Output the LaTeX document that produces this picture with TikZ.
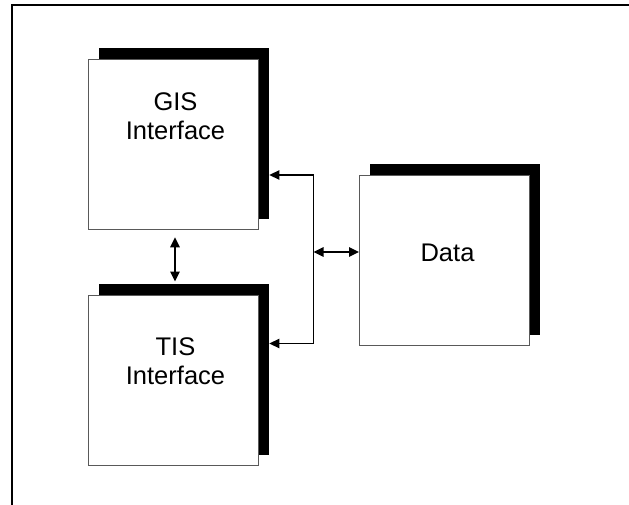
\documentclass[tikz,border=0pt]{standalone}
\usepackage{fontspec}
\setmainfont{Liberation Sans}
\usetikzlibrary{arrows.meta,calc}

\tikzset{
  shadowbox/.style={fill=black, draw=none, minimum width=170pt, minimum height=171pt,
                    inner sep=0pt, anchor=north west},
  frontbox/.style={fill=white, draw=black!65, line width=0.8pt, minimum width=170pt,
                   minimum height=170pt, inner sep=0pt, anchor=north west},
  boxlabel/.style={font=\fontsize{25.5pt}{28.5pt}\selectfont, align=center, inner sep=0pt},
  link/.style={line width=1.3pt, -{Triangle[length=10pt,width=9.5pt]}},
  dlink/.style={line width=1.3pt, {Triangle[length=10pt,width=9.5pt]}-{Triangle[length=10pt,width=9.5pt]}},
  frame/.style={line width=1.5pt}
}

\begin{document}
\begin{tikzpicture}[x=1pt, y=-1pt]
  \useasboundingbox (0,0) rectangle (629,505);

  % open frame: top and left edges
  \coordinate (ftl) at (12,5);
  \coordinate (ftr) at (629,5);
  \coordinate (fbl) at (12,505);
  \draw[frame] (fbl) -- (ftl) -- (ftr);

  % GIS interface block
  \node[shadowbox] (gisS) at (99,48) {};
  \node[frontbox]  (gisF) at (88,59) {};
  \node[boxlabel]  (gisL) at (175.5,116) {GIS\\Interface};

  % TIS interface block
  \node[shadowbox] (tisS) at (99,284) {};
  \node[frontbox]  (tisF) at (88,295) {};
  \node[boxlabel]  (tisL) at (175.5,361) {TIS\\Interface};

  % Data block
  \node[shadowbox] (dataS) at (370,164) {};
  \node[frontbox]  (dataF) at (359,175) {};
  \node[boxlabel]  (dataL) at (447.5,252.5) {Data};

  % bus joining the two interfaces to the data block
  \coordinate (jt) at (313.5,175);
  \coordinate (jb) at (313.5,343.5);
  \coordinate (jm) at (313.5,252);
  \draw[line width=1.3pt] (jt) -- (jb);
  \draw[link] (jt) -- (jt -| gisS.east);
  \draw[link] (jb) -- (jb -| tisS.east);
  \draw[dlink] (jm) -- (jm -| dataF.west);

  % link between the two interfaces
  \coordinate (vx) at (175,0);
  \draw[dlink] ([yshift=-7.5pt] gisF.south -| vx) -- ([yshift=2.5pt] tisS.north -| vx);
\end{tikzpicture}
\end{document}
